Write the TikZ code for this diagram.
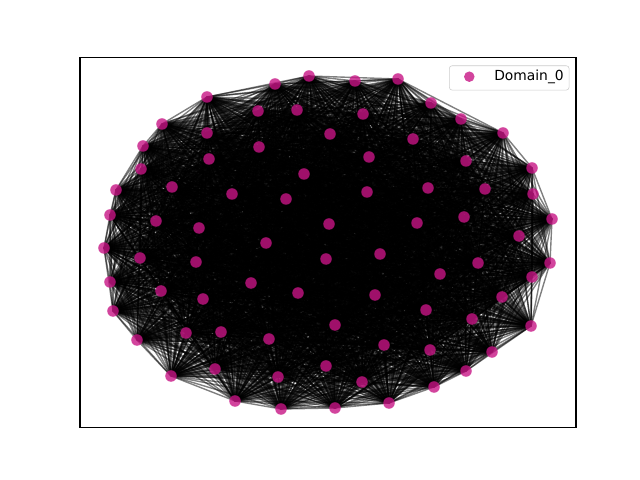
\documentclass[tikz,border=0pt]{standalone}
\usepackage{fontspec}
\setmainfont{DejaVu Sans}
\usetikzlibrary{backgrounds}
\definecolor{violetred}{RGB}{199,21,133}

\begin{document}
\begin{tikzpicture}[x=0.01in, y=-0.01in,
    vertex/.style={circle, fill=violetred, fill opacity=0.8, inner sep=0pt, minimum size=0.115in},
    link/.style={line width=1pt, draw opacity=0.5},
    legendbox/.style={draw=black!20, fill=white, fill opacity=0.8, rounded corners=2pt, inner sep=0pt}]

      \useasboundingbox (0,0) rectangle (640,480);
      \draw[line width=0.8pt] (80,57.6) rectangle (576,427.2);

      % nodes, positions in pixels
      \foreach \n/\x/\y in {1/309/76, 2/355/81, 3/398/79, 4/431/103, 5/461/119,
        6/503/133, 7/532/168, 8/533/194, 9/552/219, 10/519/236, 11/550/263,
        12/532/277, 13/531/326, 14/502/297, 15/478/263, 16/492/352, 17/466/371,
        18/434/387, 19/389/403, 20/335/408, 21/281/409, 22/235/401, 23/171/376,
        24/137/340, 25/113/311, 26/110/282, 27/104/248, 28/110/215, 29/116/190,
        30/141/169, 31/143/146, 32/162/124, 33/207/97, 34/275/84, 35/363/114,
        36/330/134, 37/413/139, 38/369/157, 39/466/161, 40/428/188, 41/485/189,
        42/367/192, 43/329/224, 44/417/223, 45/464/217, 46/258/111, 47/297/110,
        48/207/133, 49/259/147, 50/209/159, 51/304/174, 52/172/187, 53/232/194,
        54/286/199, 55/156/221, 56/199/228, 57/266/243, 58/140/258, 59/196/262,
        60/326/259, 61/161/291, 62/251/283, 63/298/293, 64/203/299, 65/186/333,
        66/221/332, 67/269/339, 68/326/366, 69/215/369, 70/278/377, 71/380/254,
        72/440/274, 73/375/295, 74/426/310, 75/472/319, 76/335/325, 77/384/345,
        78/430/350, 79/362/382}
        \node[vertex] (n\n) at (\x,\y) {};

      \begin{scope}[on background layer]
        \foreach \i in {1,...,78} {
          \pgfmathtruncatemacro\k{\i+1}
          \foreach \j in {\k,...,79}
            \draw[link] (n\i.center) -- (n\j.center);
        };
      \end{scope}

      % legend
      \node[legendbox, minimum width=1.197in, minimum height=0.243in] (legend) at (509.2,77.9) {};
      \node[vertex, minimum size=0.105in] (marker) at (469.3,76.7) {};
      \node[anchor=west, inner sep=0pt, font=\fontsize{10}{12}\selectfont] (label) at (494,77) {Domain\_0};
    \end{tikzpicture}
\end{document}
